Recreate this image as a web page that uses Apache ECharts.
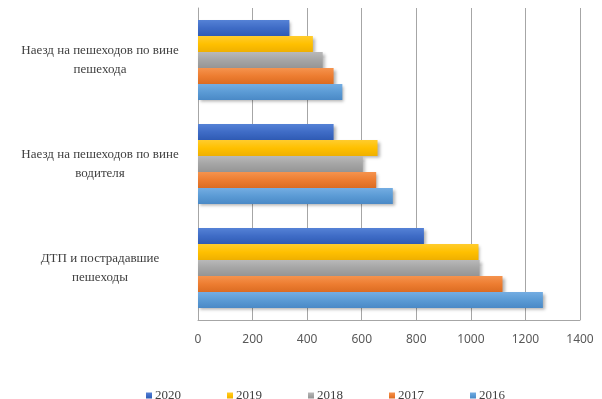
<!DOCTYPE html>
<html>
<head>
<meta charset="utf-8">
<script src="https://cdn.jsdelivr.net/npm/echarts@6/dist/echarts.min.js"></script>
<style>
  html, body { margin: 0; padding: 0; background: #fff; }
  #chart { width: 602px; height: 399px; }
</style>
</head>
<body>
<div id="chart"></div>
<script>
// Categories, bottom to top along the vertical axis
const categories = [
  'ДТП и пострадавшие\nпешеходы',
  'Наезд на пешеходов по вине\nводителя',
  'Наезд на пешеходов по вине\nпешехода'
];
// Series in drawing order: first one sits at the top of each group
const years = ['2020', '2019', '2018', '2017', '2016'];
const values2020 = [828, 497, 335];
const values2019 = [1028, 658, 421];
const values2018 = [1032, 604, 457];
const values2017 = [1116, 653, 497];
const values2016 = [1264, 714, 529];
const xTicks = [0, 200, 400, 600, 800, 1000, 1200, 1400];

const seriesValues = [values2020, values2019, values2018, values2017, values2016];
const baseColors = ['#3F6CC6', '#FFC000', '#A5A5A5', '#ED7D31', '#5B9BD5'];
const lightColors = ['#5582D6', '#FFCC2E', '#B9B9B9', '#F5934E', '#74ADE2'];
const darkColors = ['#2F5BB4', '#EFB000', '#959595', '#DB6C22', '#4A89C6'];

function barFill(i) {
  return new echarts.graphic.LinearGradient(0, 0, 0, 1, [
    { offset: 0, color: lightColors[i] },
    { offset: 0.5, color: baseColors[i] },
    { offset: 1, color: darkColors[i] }
  ]);
}

const chart = echarts.init(document.getElementById('chart'), null, { renderer: 'canvas' });

const series = years.map((y, i) => ({
  name: y,
  type: 'bar',
  data: seriesValues[i],
  barGap: '0%',
  barCategoryGap: '23%',
  itemStyle: {
    color: barFill(i),
    shadowBlur: 3,
    shadowOffsetX: 2,
    shadowOffsetY: 2,
    shadowColor: 'rgba(0,0,0,0.3)'
  },
  emphasis: { disabled: true }
}));

chart.setOption({
  animation: false,
  textStyle: { fontFamily: '"Liberation Serif", "DejaVu Serif", serif' },
  grid: { left: 198, right: 22, top: 8, bottom: 79, containLabel: false },
  legend: {
    data: years.map(n => ({ name: n, icon: 'rect' })),
    left: 141,
    top: 384,
    itemWidth: 6,
    itemHeight: 6,
    itemGap: 46,
    textStyle: { fontSize: 13, color: '#404040', padding: [0, 0, 0, -2],
                 fontFamily: '"Liberation Serif", serif' }
  },
  xAxis: {
    type: 'value',
    min: xTicks[0],
    max: xTicks[xTicks.length - 1],
    interval: 200,
    axisLine: { show: true, lineStyle: { color: '#A6A6A6', width: 1 } },
    axisTick: { show: false },
    splitLine: { show: true, lineStyle: { color: '#A6A6A6', width: 1 } },
    axisLabel: {
      color: '#595959', fontSize: 12, margin: 14,
      fontFamily: '"Noto Sans", "Open Sans", sans-serif',
      formatter: v => String(v)
    }
  },
  yAxis: {
    type: 'category',
    data: categories,
    axisLine: { show: true, lineStyle: { color: '#A6A6A6', width: 1 } },
    axisTick: { show: false },
    axisLabel: {
      color: '#404040',
      fontSize: 13,
      lineHeight: 19,
      align: 'center',
      margin: 98,
      padding: [4, 0, 0, 0],
      fontFamily: '"Liberation Serif", serif'
    }
  },
  series: series
});
</script>
</body>
</html>
